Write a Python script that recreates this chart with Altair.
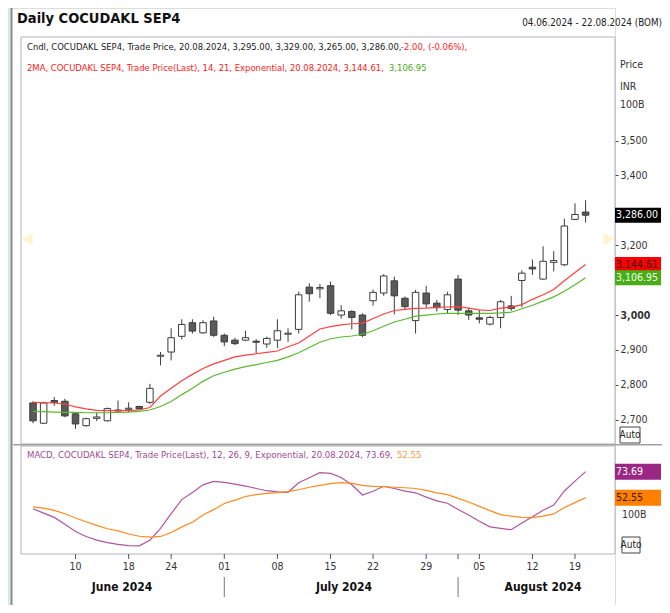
import altair as alt
import pandas as pd

# ---- data ----
days = ["04.06", "05.06", "06.06", "07.06", "10.06", "11.06", "12.06", "13.06", "14.06", "18.06",
        "19.06", "20.06", "21.06", "24.06", "25.06", "26.06", "27.06", "28.06", "01.07", "02.07",
        "03.07", "04.07", "05.07", "08.07", "09.07", "10.07", "11.07", "12.07", "15.07", "16.07",
        "18.07", "19.07", "22.07", "23.07", "24.07", "25.07", "26.07", "29.07", "30.07", "31.07",
        "01.08", "02.08", "05.08", "06.08", "07.08", "08.08", "09.08", "12.08", "13.08", "14.08",
        "16.08", "19.08", "20.08"]
opens = [2748, 2690, 2755, 2753, 2717, 2683, 2704, 2697, 2725, 2730,
         2738, 2750, 2882, 2894, 2939, 2978, 2949, 2983, 2942, 2928,
         2928, 2925, 2917, 2928, 2945, 2959, 3080, 3075, 3084, 3000,
         3010, 3000, 3041, 3063, 3098, 3048, 2984, 3063, 3034, 3016,
         3103, 3012, 2992, 2974, 2993, 3026, 3099, 3137, 3103, 3151,
         3144, 3274, 3295]
highs = [2753, 2752, 2765, 2760, 2720, 2706, 2720, 2735, 2755, 2750,
         2740, 2803, 2894, 2962, 2988, 2988, 2985, 2995, 2947, 2935,
         2955, 2931, 2938, 2988, 2962, 3067, 3091, 3089, 3096, 3028,
         3014, 3005, 3073, 3117, 3110, 3053, 3072, 3084, 3043, 3067,
         3115, 3021, 3014, 2998, 3043, 3055, 3128, 3159, 3197, 3183,
         3276, 3320, 3329]
lows = [2690, 2688, 2740, 2707, 2674, 2680, 2696, 2695, 2722, 2722,
        2728, 2745, 2856, 2870, 2930, 2947, 2947, 2937, 2911, 2914,
        2925, 2890, 2906, 2906, 2923, 2947, 3038, 3048, 3000, 2990,
        2959, 2937, 3027, 3055, 3002, 3014, 2947, 3021, 3010, 3005,
        3000, 2986, 2976, 2970, 2962, 3012, 3022, 3115, 3101, 3125,
        3140, 3272, 3265]
closes = [2697, 2748, 2750, 2711, 2688, 2703, 2708, 2732, 2728, 2733,
          2731, 2790, 2885, 2935, 2973, 2954, 2978, 2942, 2923, 2918,
          2935, 2922, 2933, 2955, 2948, 3058, 3061, 3079, 3005, 3012,
          2993, 2942, 3065, 3112, 3055, 3024, 3065, 3032, 3021, 3058,
          3014, 3000, 2988, 2993, 3038, 3019, 3120, 3132, 3154, 3156,
          3255, 3288, 3286]
ema14 = [2750, 2749, 2748, 2745, 2737, 2731, 2727, 2726, 2726, 2726,
         2728, 2735, 2768, 2790, 2812, 2830, 2847, 2860, 2870, 2880,
         2885, 2889, 2893, 2897, 2909, 2920, 2940, 2960, 2967, 2972,
         2975, 2976, 2990, 3003, 3013, 3016, 3019, 3020, 3022, 3023,
         3024, 3020, 3015, 3013, 3020, 3022, 3030, 3045, 3058, 3073,
         3098, 3122, 3144.61]
ema21 = [2724, 2723, 2722, 2721, 2721, 2720, 2720, 2720, 2721, 2722,
         2724, 2728, 2738, 2752, 2772, 2790, 2810, 2826, 2836, 2845,
         2852, 2858, 2864, 2870, 2880, 2892, 2907, 2922, 2932, 2937,
         2940, 2945, 2955, 2968, 2980, 2988, 2997, 3000, 3003, 3005,
         3005, 3005, 3005, 3005, 3006, 3008, 3018, 3028, 3040, 3052,
         3068, 3087, 3106.95]
macd = [43.5, 40.0, 36.5, 31.0, 25.0, 21.0, 18.0, 16.0, 14.5, 13.5,
        13.4, 18.0, 27.5, 39.5, 51.0, 56.8, 63.0, 65.8, 65.0, 63.5,
        62.0, 60.0, 58.2, 57.2, 56.9, 64.7, 68.7, 72.9, 72.3, 69.0,
        63.0, 54.7, 57.8, 61.8, 60.0, 57.8, 56.5, 53.0, 50.0, 48.0,
        43.0, 38.5, 33.3, 28.8, 27.6, 26.5, 32.0, 37.0, 42.3, 46.5,
        58.0, 66.0, 73.69]
signal = [45.0, 44.0, 42.2, 39.5, 36.0, 33.0, 30.0, 27.3, 25.5, 23.0,
          21.2, 20.4, 21.0, 24.2, 28.8, 32.5, 38.5, 42.8, 47.8, 50.5,
          53.5, 55.0, 56.0, 56.6, 57.4, 59.0, 61.0, 62.5, 64.0, 64.7,
          64.2, 62.5, 61.8, 61.5, 61.0, 60.6, 60.0, 58.5, 56.5, 55.0,
          52.0, 49.0, 45.5, 42.0, 38.8, 37.5, 36.5, 36.3, 37.5, 39.3,
          44.5, 48.5, 52.55]
tick_idx = [4, 9, 13, 18, 23, 28, 32, 37, 40, 42, 47, 51]
tick_labels = ["10", "18", "24", "01", "08", "15", "22", "29", "", "05", "12", "19"]
month_start_idx = [18, 40]
price_ticks = [2700, 2800, 2900, 3000, 3200, 3400, 3500]

df = pd.DataFrame({"i": list(range(len(days))), "day": days, "open": opens, "high": highs,
                   "low": lows, "close": closes, "ema14": ema14, "ema21": ema21,
                   "macd": macd, "signal": signal})
ticks_df = pd.DataFrame({"i": tick_idx, "lab": tick_labels})
months_df = pd.DataFrame({"i": month_start_idx})

NARROW = "Liberation Sans Narrow, Arial Narrow, DejaVu Sans Condensed, sans-serif"
W, H = 607, 597

xs = alt.Scale(domain=[0, 52], range=[20, 582.6], nice=False, zero=False)
ys = alt.Scale(domain=[2650, 3750], range=[429.2, 45.25], nice=False, zero=False)
ms = alt.Scale(domain=[0, 100], range=[554.3, 431.3], nice=False, zero=False)
X = alt.X("i:Q", scale=xs, axis=None)

base = alt.Chart(df)
one = alt.Chart(pd.DataFrame({"a": [0]}))


def vrect(x1, x2, y1, y2, **kw):
    return one.mark_rect(**kw).encode(x=alt.value(x1), x2=alt.value(x2), y=alt.value(y1), y2=alt.value(y2))


def txt(s, x, y, **kw):
    kw.setdefault("font", NARROW)
    kw.setdefault("baseline", "middle")
    kw.setdefault("align", "left")
    return one.mark_text(**kw).encode(x=alt.value(x), y=alt.value(y), text=alt.value(s))


# ---- decorations (background) ----
bg = [
    vrect(0, 2.5, 0, H, color="#d4eae8"),
    vrect(2.5, 4.5, 0, H, color="#8a8a8a"),
    vrect(13, W, 29, 436, fill="white", stroke="#b4b4bc", strokeWidth=1),
    vrect(13, W, 438, 546, fill="white", stroke="#b4b4bc", strokeWidth=1),
    vrect(5, 654, 436, 437.5, color="#a0a0a0"),
    one.mark_point(shape="triangle-left", filled=True, size=160, color="#fbf6d0", opacity=1).encode(
        x=alt.value(19), y=alt.value(231)),
    one.mark_point(shape="triangle-right", filled=True, size=160, color="#fbf6d0", opacity=1).encode(
        x=alt.value(601), y=alt.value(231)),
]

# ---- price panel ----
Y = alt.Y("low:Q", scale=ys, axis=alt.Axis(
    orient="right", values=price_ticks, format=",d", tickSize=3, tickColor="#444",
    domain=False, grid=False, labelFont=NARROW, labelFontSize=10.5, labelColor="#333",
    labelPadding=2,
    labelFontWeight=alt.condition("datum.value == 3000", alt.value("bold"), alt.value("normal")),
    title=None))
wicks = base.mark_rule(color="#3c3c3c", strokeWidth=1).encode(x=X, y=Y, y2="high:Q")
bodies = base.mark_bar(width=6.5, stroke="#3c3c3c", strokeWidth=1).encode(
    x=X, y=alt.Y("open:Q", scale=ys), y2="close:Q",
    fill=alt.condition("datum.close >= datum.open", alt.value("white"), alt.value("#5a5a5a")))
red = base.mark_line(color="#ff4040", strokeWidth=1.2).encode(x=X, y=alt.Y("ema14:Q", scale=ys))
green = base.mark_line(color="#5cb82e", strokeWidth=1.2).encode(x=X, y=alt.Y("ema21:Q", scale=ys))

lbl_df = pd.DataFrame({"v": [3286.00, 3144.61, 3106.95], "t": ["3,286.00", "3,144.61", "3,106.95"],
                       "bg": ["#000000", "#ff0000", "#4aad15"], "fg": ["#ffffff", "#3a0000", "#eaffea"],
                       "off": [0, -1, 4]})
lbox = alt.Chart(lbl_df).mark_tick(orient="horizontal", size=46, thickness=15, opacity=1).encode(
    x=alt.value(630), y=alt.Y("v:Q", scale=ys), yOffset=alt.YOffset("off:Q", scale=None),
    color=alt.Color("bg:N", scale=None))
ltxt = alt.Chart(lbl_df).mark_text(font=NARROW, fontSize=10.5, align="left", baseline="middle").encode(
    x=alt.value(608), y=alt.Y("v:Q", scale=ys), yOffset=alt.YOffset("off:Q", scale=None),
    text="t:N", color=alt.Color("fg:N", scale=None))
price = alt.layer(wicks, bodies, red, green, lbox, ltxt)

# ---- MACD panel ----
MY = alt.Y("macd:Q", scale=ms, axis=None)
mline = base.mark_line(color="#b0559f", strokeWidth=1.2).encode(x=X, y=MY)
sline = base.mark_line(color="#ff8a1f", strokeWidth=1.2).encode(x=X, y=alt.Y("signal:Q", scale=ms))
mlbl = pd.DataFrame({"v": [73.69, 52.55], "t": ["73.69", "52.55"], "bg": ["#9b2785", "#ff7f00"],
                     "fg": ["#ffffff", "#3a1a00"]})
mbox = alt.Chart(mlbl).mark_tick(orient="horizontal", size=46, thickness=16, opacity=1).encode(
    x=alt.value(630), y=alt.Y("v:Q", scale=ms), color=alt.Color("bg:N", scale=None))
mtxt = alt.Chart(mlbl).mark_text(font=NARROW, fontSize=10.5, align="left", baseline="middle").encode(
    x=alt.value(608), y=alt.Y("v:Q", scale=ms), text="t:N", color=alt.Color("fg:N", scale=None))
macd_panel = alt.layer(mline, sline, mbox, mtxt)

# ---- x axis (date ticks) ----
xt = alt.Chart(ticks_df).mark_rule(color="#555").encode(x=X, y=alt.value(546), y2=alt.value(551))
xl = alt.Chart(ticks_df).mark_text(font=NARROW, fontSize=10.5, color="#333", baseline="middle").encode(
    x=X, y=alt.value(559), text="lab:N")
msep = alt.Chart(months_df).mark_rule(color="#777", strokeWidth=1).encode(
    x=X, y=alt.value(569), y2=alt.value(589))

# ---- texts ----
texts = [
    txt("Daily COCUDAKL SEP4", 9, 11, fontSize=14.5, fontWeight="bold", color="#111"),
    txt("04.06.2024 - 22.08.2024 (BOM)", 654, 15, fontSize=9.8, color="#222", align="right"),
    txt("Cndl, COCUDAKL SEP4, Trade Price, 20.08.2024, 3,295.00, 3,329.00, 3,265.00, 3,286.00,",
        19, 39, fontSize=9.4, color="#222"),
    txt("-2.00, (-0.06%),", 393, 39, fontSize=9.4, color="#ff2020"),
    txt("2MA, COCUDAKL SEP4, Trade Price(Last),  14, 21, Exponential, 20.08.2024, 3,144.61,",
        19, 60, fontSize=9.4, color="#ff2020"),
    txt("3,106.95", 381, 60, fontSize=9.4, color="#4aad15"),
    txt("Price", 612, 57, fontSize=10.5, color="#333"),
    txt("INR", 612, 79, fontSize=10.5, color="#333"),
    txt("100B", 612, 97, fontSize=10.5, color="#333"),
    vrect(612, 632, 419, 435, fill="white", stroke="#444", strokeWidth=1),
    txt("Auto", 622, 427, fontSize=10, color="#222", align="center"),
    txt("MACD, COCUDAKL SEP4, Trade Price(Last),  12, 26, 9, Exponential, 20.08.2024, 73.69,",
        19, 447, fontSize=9.5, color="#a04a94"),
    txt("52.55", 389, 447, fontSize=9.5, color="#ff9a3a"),
    txt("100B", 614, 507, fontSize=10.5, color="#333"),
    vrect(614, 632, 529, 545, fill="white", stroke="#444", strokeWidth=1),
    txt("Auto", 623, 537, fontSize=10, color="#222", align="center"),
    txt("June 2024", 114, 579, fontSize=12, fontWeight="bold", color="#111", align="center"),
    txt("July 2024", 336, 579, fontSize=12, fontWeight="bold", color="#111", align="center"),
    txt("August 2024", 535, 579, fontSize=12, fontWeight="bold", color="#111", align="center"),
]

chart = alt.layer(*bg, price, macd_panel, xt, xl, msep, *texts).resolve_scale(
    y="independent"
).properties(
    width=W, height=H, autosize=alt.AutoSizeParams(type="none"),
    padding={"left": 0, "top": 0, "right": 47, "bottom": 0},
).configure_view(stroke=None).configure(background="white")

chart.save("out.html", embed_options={"renderer": "svg", "actions": False})
